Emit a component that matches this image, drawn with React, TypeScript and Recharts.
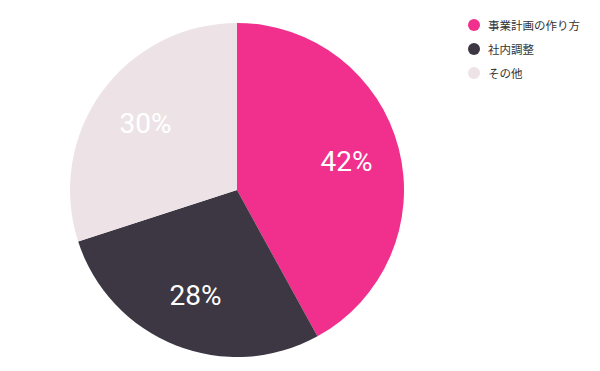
import React from 'react';
import { PieChart, Pie, Cell, Legend } from 'recharts';

const categories = ['事業計画の作り方', '社内調整', 'その他'];
const shares = [42, 28, 30];
const colors = ['#F0308C', '#3D3743', '#EDE3E6'];

const data = categories.map((name, i) => ({ name, value: shares[i] }));

const RADIAN = Math.PI / 180;

const renderLabel = (props: any) => {
  const { cx, cy, midAngle, value } = props;
  const r = 113;
  const x = cx + r * Math.cos(-midAngle * RADIAN);
  const y = cy + r * Math.sin(-midAngle * RADIAN);
  return (
    <text
      x={x}
      y={y}
      fill="#ffffff"
      textAnchor="middle"
      dominantBaseline="central"
      fontFamily="Roboto, sans-serif"
      fontSize={28}
    >
      {`${value}%`}
    </text>
  );
};

const renderLegend = () => (
  <div style={{ fontFamily: '"Noto Sans CJK JP", sans-serif', fontSize: 11.5, color: '#333' }}>
    {categories.map((name, i) => (
      <div key={name} style={{ display: 'flex', alignItems: 'center', height: 24 }}>
        <span
          style={{
            display: 'inline-block',
            width: 12,
            height: 12,
            borderRadius: '50%',
            background: colors[i],
            marginRight: 8,
          }}
        />
        <span>{name}</span>
      </div>
    ))}
  </div>
);

export default function App() {
  return (
    <div style={{ position: 'absolute', left: 0, top: 0, width: 600, height: 371, background: '#fff' }}>
      <PieChart width={600} height={371}>
        <Pie
          data={data}
          dataKey="value"
          nameKey="name"
          cx={232}
          cy={185}
          outerRadius={167}
          startAngle={90}
          endAngle={-270}
          stroke="none"
          labelLine={false}
          label={renderLabel}
          isAnimationActive={false}
        >
          {data.map((entry, i) => (
            <Cell key={entry.name} fill={colors[i]} />
          ))}
        </Pie>
        <Legend
          content={renderLegend}
          wrapperStyle={{ position: 'absolute', left: 468, top: 13, width: 130 }}
        />
      </PieChart>
    </div>
  );
}
